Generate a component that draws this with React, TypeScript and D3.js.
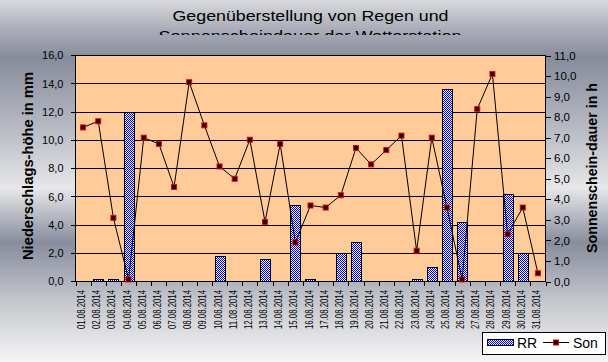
import React from "react";
import * as d3 from "d3";

const dates = [
  "01.08.2014", "02.08.2014", "03.08.2014", "04.08.2014", "05.08.2014", "06.08.2014",
  "07.08.2014", "08.08.2014", "09.08.2014", "10.08.2014", "11.08.2014", "12.08.2014",
  "13.08.2014", "14.08.2014", "15.08.2014", "16.08.2014", "17.08.2014", "18.08.2014",
  "19.08.2014", "20.08.2014", "21.08.2014", "22.08.2014", "23.08.2014", "24.08.2014",
  "25.08.2014", "26.08.2014", "27.08.2014", "28.08.2014", "29.08.2014", "30.08.2014",
  "31.08.2014",
];
const rr = [0, 0.2, 0.2, 12.0, 0, 0, 0, 0, 0, 1.8, 0, 0, 1.6, 0, 5.4, 0.2, 0, 2.0, 2.8, 0, 0, 0, 0.2, 1.0, 13.6, 4.2, 0, 0, 6.2, 2.0, 0];
const son = [7.5, 7.8, 3.1, 0.1, 7.0, 6.7, 4.6, 9.7, 7.6, 5.6, 5.0, 6.9, 2.9, 6.7, 1.9, 3.7, 3.6, 4.2, 6.5, 5.7, 6.4, 7.1, 1.5, 7.0, 3.6, 0.1, 8.4, 10.1, 2.3, 3.6, 0.4];
const leftTicks = [0, 2, 4, 6, 8, 10, 12, 14, 16];
const rightTicks = [0, 1, 2, 3, 4, 5, 6, 7, 8, 9, 10, 11];

const W = 608, H = 362;
const X0 = 75.5, X1 = 545.5, Y0 = 55.5, Y1 = 281.5;
const FONT = "'Liberation Sans', Arial, sans-serif";

const fmt = (v: number) => v.toFixed(1).replace(".", ",");

export default function App() {
  const x = d3.scaleBand<string>().domain(dates).range([X0, X1]).padding(0);
  const bw = x.bandwidth();
  const yL = d3.scaleLinear().domain([0, 16]).range([Y1, Y0]);
  const yR = d3.scaleLinear().domain([0, 11]).range([Y1, Y0]);
  const line = d3
    .line<number>()
    .x((_, i) => (x(dates[i]) as number) + bw / 2)
    .y((d) => yR(d));

  const bounds = dates.map((d) => x(d) as number).concat([X1]);

  return (
    <svg width={W} height={H} style={{ position: "absolute", left: 0, top: 0 }} fontFamily={FONT}>
      <defs>
        <linearGradient id="bg" x1="0" y1="0" x2="0" y2="1">
          <stop offset="0" stopColor="#d8d9dd" />
          <stop offset="0.08" stopColor="#abaeb8" />
          <stop offset="0.16" stopColor="#878c9c" />
          <stop offset="0.35" stopColor="#b6b9c2" />
          <stop offset="0.52" stopColor="#e7e7e9" />
          <stop offset="0.67" stopColor="#888d9d" />
          <stop offset="0.83" stopColor="#c4c6cc" />
          <stop offset="1" stopColor="#f5f5f5" />
        </linearGradient>
        <pattern id="chk" width="2" height="2" patternUnits="userSpaceOnUse">
          <rect width="2" height="2" fill="#ffffff" />
          <rect x="0" y="0" width="1" height="1" fill="#0000ff" />
          <rect x="1" y="1" width="1" height="1" fill="#0000ff" />
        </pattern>
        <clipPath id="titleClip">
          <rect x="0" y="0" width={W} height="35" />
        </clipPath>
      </defs>
      <rect width={W} height={H} fill="url(#bg)" />

      {/* title */}
      <g clipPath="url(#titleClip)" fontSize="14" fill="#000">
        <text x={310.5} y={20.7} textAnchor="middle" textLength={276} lengthAdjust="spacingAndGlyphs">
          Gegenüberstellung von Regen und
        </text>
        <text x={310} y={41.4} textAnchor="middle" textLength={303} lengthAdjust="spacingAndGlyphs">
          Sonnenscheindauer der Wetterstation
        </text>
      </g>

      {/* plot background */}
      <rect x={X0} y={Y0} width={X1 - X0} height={Y1 - Y0} fill="#ffcc99" />

      {/* gridlines */}
      <g stroke="#000" strokeWidth={1} shapeRendering="crispEdges">
        {leftTicks.map((t) => (
          <line key={t} x1={X0} x2={X1} y1={yL(t)} y2={yL(t)} />
        ))}
      </g>

      {/* bars */}
      <g shapeRendering="crispEdges">
        {rr.map((v, i) =>
          v > 0 ? (
            <rect
              key={i}
              x={Math.round((x(dates[i]) as number) + bw * 0.17) + 0.5}
              y={Math.round(yL(v)) + 0.5}
              width={Math.round(bw * 0.66)}
              height={Y1 - (Math.round(yL(v)) + 0.5)}
              fill="url(#chk)"
              stroke="#000"
              strokeWidth={1}
            />
          ) : null
        )}
      </g>

      {/* axes */}
      <g stroke="#000" strokeWidth={1} shapeRendering="crispEdges">
        <line x1={X0} x2={X0} y1={Y0} y2={Y1} />
        <line x1={X1} x2={X1} y1={Y0} y2={Y1} />
        <line x1={X0} x2={X1} y1={Y1} y2={Y1} />
        <line x1={X0} x2={X1} y1={Y0} y2={Y0} />
        {leftTicks.map((t) => (
          <line key={"l" + t} x1={X0 - 5} x2={X0} y1={yL(t)} y2={yL(t)} />
        ))}
        {rightTicks.map((t) => (
          <line key={"r" + t} x1={X1} x2={X1 + 5} y1={Math.round(yR(t)) + 0.5} y2={Math.round(yR(t)) + 0.5} />
        ))}
        {bounds.map((b, i) => (
          <line key={"x" + i} x1={Math.round(b) + 0.5} x2={Math.round(b) + 0.5} y1={Y1} y2={Y1 + 4} />
        ))}
      </g>

      {/* sunshine line */}
      <path d={line(son) || ""} fill="none" stroke="#000" strokeWidth={1} />
      {son.map((v, i) => (
        <rect
          key={i}
          x={(x(dates[i]) as number) + bw / 2 - 2.5}
          y={yR(v) - 2.5}
          width={5}
          height={5}
          fill="#000"
          stroke="#ff0000"
          strokeWidth={1}
        />
      ))}

      {/* left tick labels */}
      <g fontSize="11" fill="#000" textAnchor="end">
        {leftTicks.map((t) => (
          <text key={t} x={63.5} y={yL(t)} dy="0.36em">
            {fmt(t)}
          </text>
        ))}
      </g>
      {/* right tick labels */}
      <g fontSize="11.5" fill="#000" textAnchor="start">
        {rightTicks.map((t) => (
          <text key={t} x={554} y={yR(t)} dy="0.36em">
            {fmt(t)}
          </text>
        ))}
      </g>

      {/* x labels */}
      <g fontSize="10" fill="#000" textAnchor="end">
        {dates.map((d) => (
          <text
            key={d}
            transform={`translate(${(x(d) as number) + bw / 2 - 1.5},290) rotate(-90)`}
            dy="0.35em"
            textLength={39}
            lengthAdjust="spacingAndGlyphs"
          >
            {d}
          </text>
        ))}
      </g>

      {/* axis titles */}
      <text
        transform="translate(33,166) rotate(-90)"
        textAnchor="middle"
        fontSize="14"
        fontWeight="bold"
        textLength={188}
        lengthAdjust="spacingAndGlyphs"
      >
        Niederschlags-höhe in mm
      </text>
      <text
        transform="translate(597,168) rotate(-90)"
        textAnchor="middle"
        fontSize="14"
        fontWeight="bold"
        textLength={170}
        lengthAdjust="spacingAndGlyphs"
      >
        Sonnenschein-dauer in h
      </text>

      {/* legend */}
      <g>
        <rect x={482.5} y={332.5} width={123} height={22} fill="#fff" stroke="#000" shapeRendering="crispEdges" />
        <rect x={487.5} y={339.5} width={26} height={6} fill="url(#chk)" stroke="#000" shapeRendering="crispEdges" />
        <text x={517} y={347.5} fontSize="14">RR</text>
        <line x1={543} x2={569} y1={342.5} y2={342.5} stroke="#000" />
        <rect x={553.5} y={340} width={5} height={5} fill="#000" stroke="#ff0000" strokeWidth={1} />
        <text x={573} y={347.5} fontSize="14">Son</text>
      </g>
    </svg>
  );
}
